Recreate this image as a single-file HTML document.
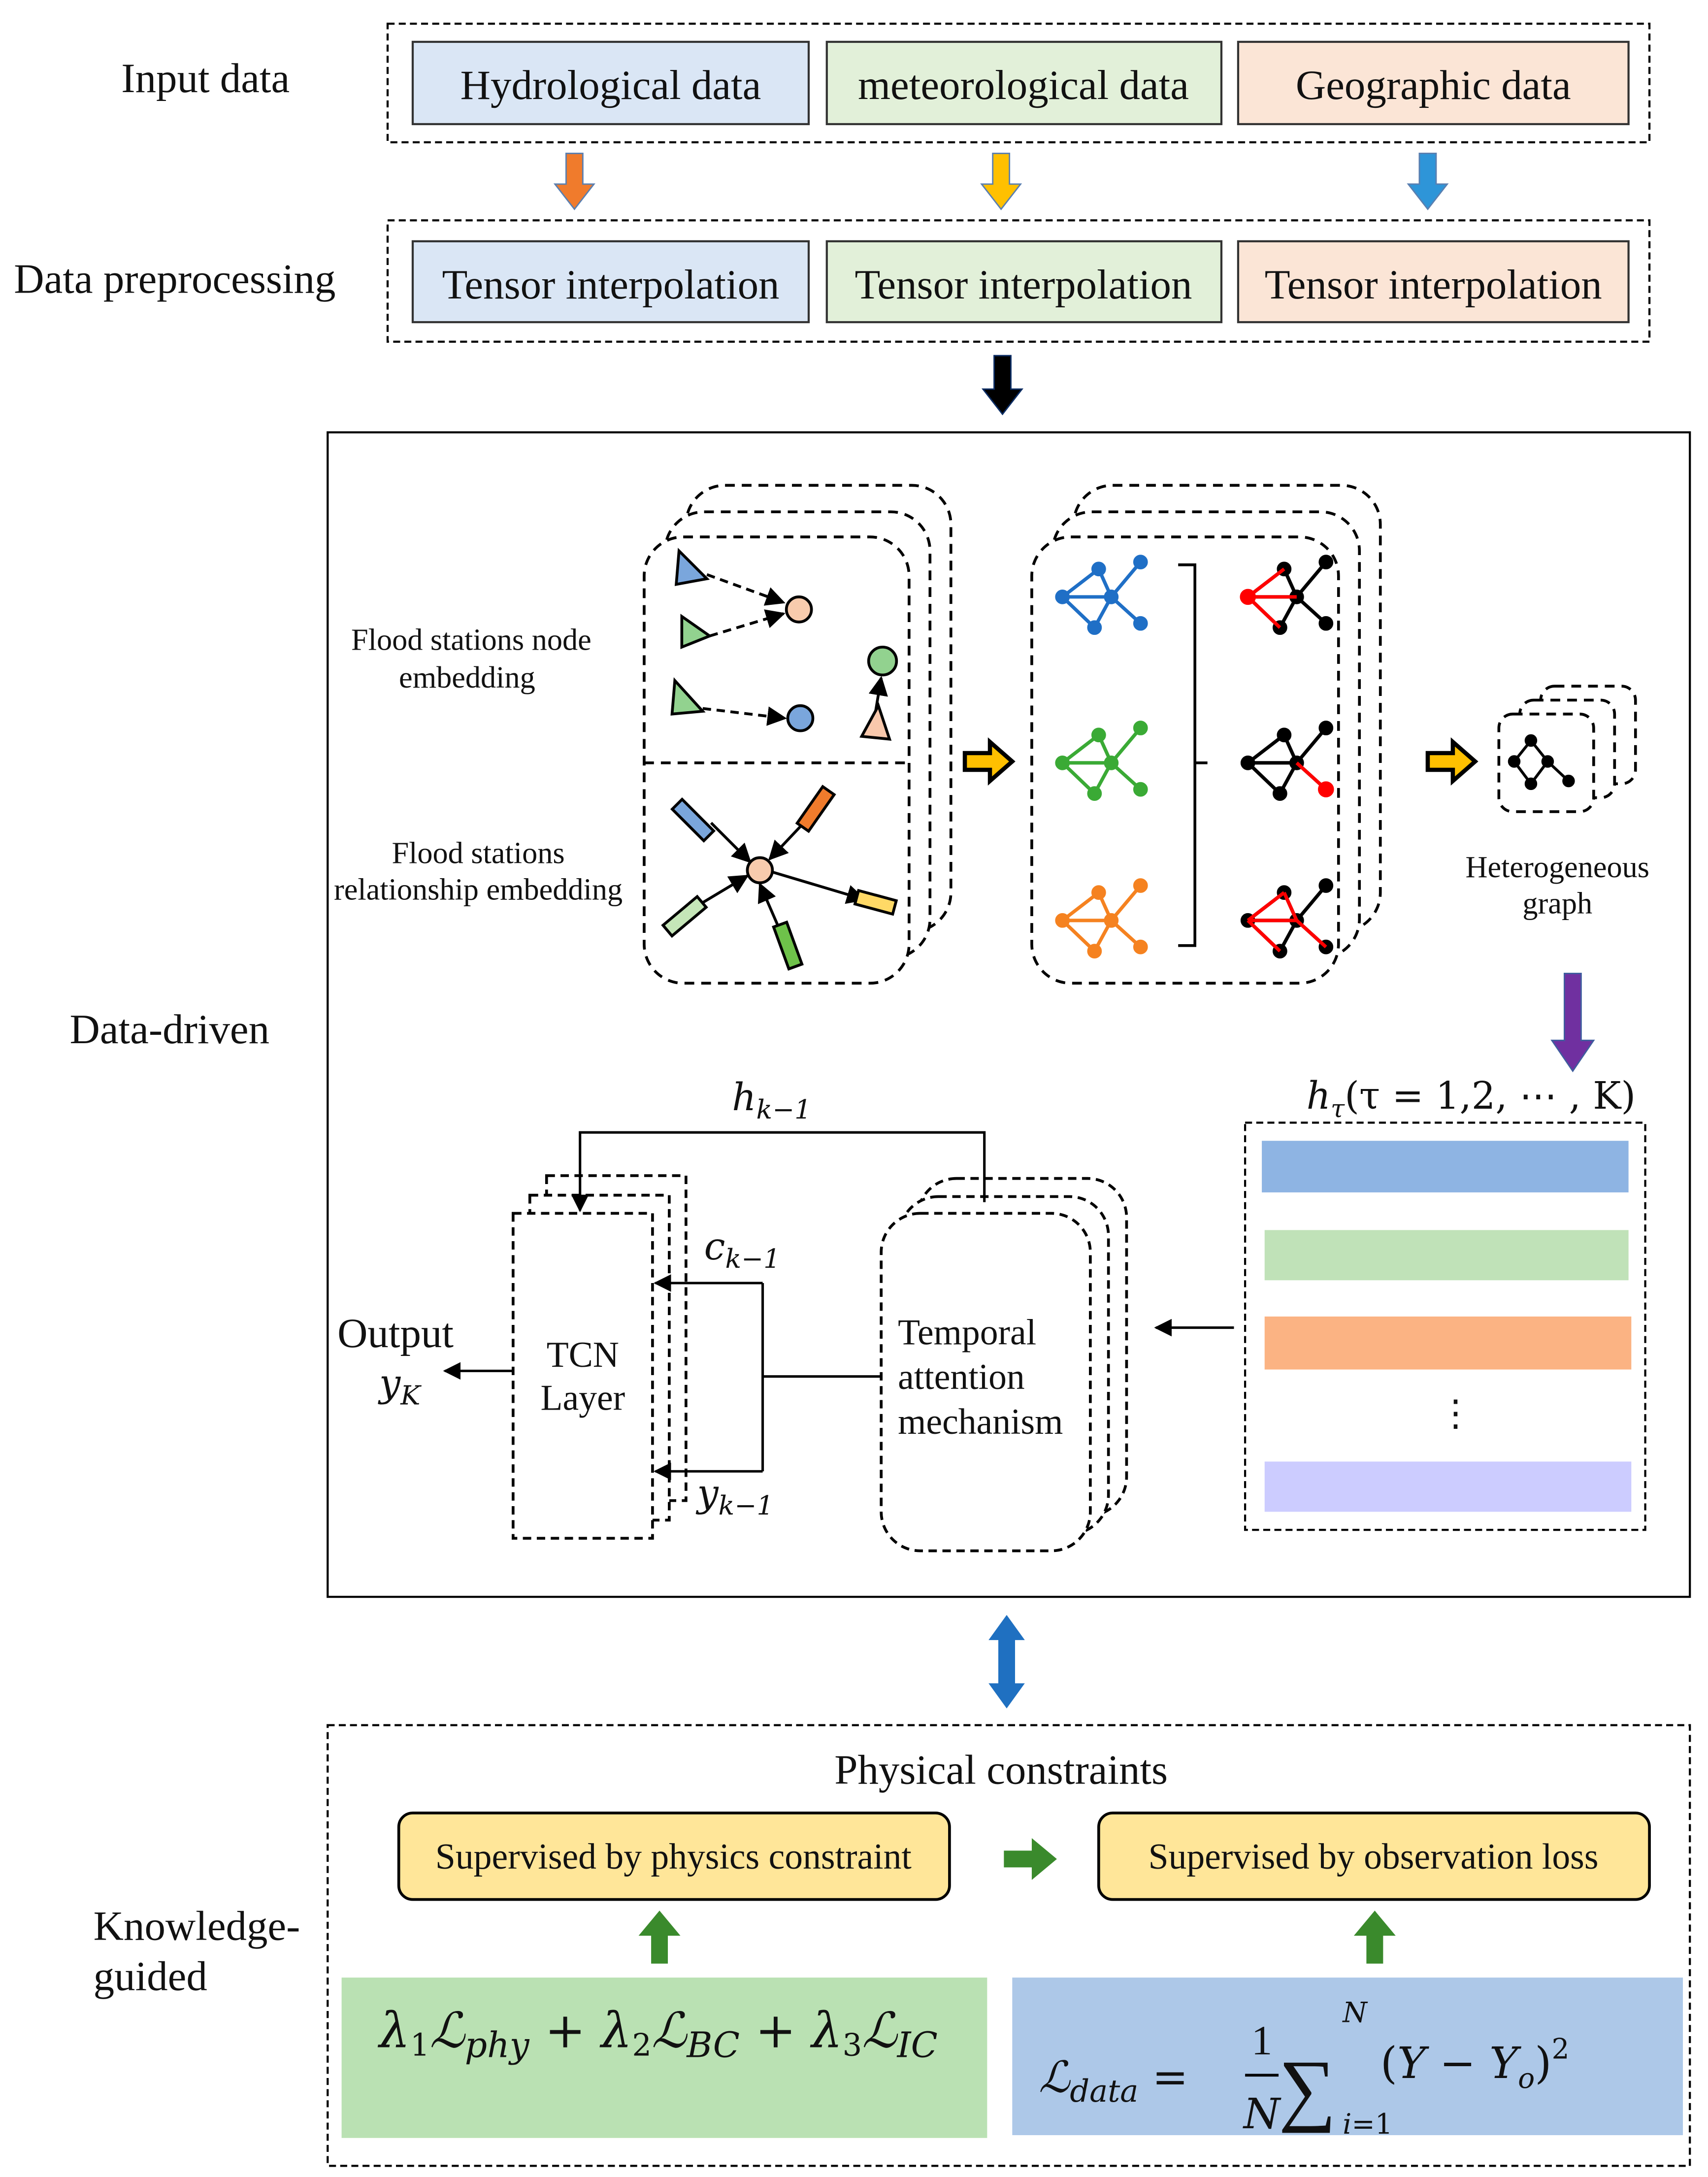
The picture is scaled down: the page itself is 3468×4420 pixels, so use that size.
<!DOCTYPE html>
<html><head><meta charset="utf-8"><style>
html,body{margin:0;padding:0;background:#fff;}
svg{display:block;}
text{font-family:"Liberation Serif",serif;fill:#111;}
.m{font-style:italic;font-family:"DejaVu Serif","Liberation Serif",serif;}
</style></head><body>
<svg width="3468" height="4420" viewBox="0 0 1225 1561" preserveAspectRatio="none" xmlns="http://www.w3.org/2000/svg">
<defs>
<marker id="ah" viewBox="0 0 10 10" refX="9" refY="5" markerWidth="7" markerHeight="7" orient="auto-start-reverse"><path d="M0,0 L10,5 L0,10 z" fill="#000"/></marker>
<g id="gr">
<line x1="-35" y1="0" x2="-9" y2="-20"/><line x1="-35" y1="0" x2="-12" y2="22"/><line x1="-35" y1="0" x2="0" y2="0"/>
<line x1="-9" y1="-20" x2="0" y2="0"/><line x1="-12" y1="22" x2="0" y2="0"/><line x1="0" y1="0" x2="21" y2="-25"/><line x1="0" y1="0" x2="21" y2="19"/>
<circle cx="-35" cy="0" r="4"/><circle cx="-9" cy="-20" r="4"/><circle cx="-12" cy="22" r="4"/><circle cx="0" cy="0" r="4"/><circle cx="21" cy="-25" r="4"/><circle cx="21" cy="19" r="4"/>
</g>
</defs>
<rect width="1225" height="1561" fill="#fff"/>

<text x="87" y="66" font-size="30">Input data</text>
<rect x="278" y="17" width="905" height="85" fill="none" stroke="#000" stroke-width="1.5" stroke-dasharray="5,3"/>
<rect x="296" y="30" width="284" height="59" fill="#dae6f5" stroke="#333" stroke-width="1.5"/>
<rect x="593" y="30" width="283" height="59" fill="#e2f0d9" stroke="#333" stroke-width="1.5"/>
<rect x="888" y="30" width="280" height="59" fill="#fbe5d6" stroke="#333" stroke-width="1.5"/>
<text x="438" y="71" font-size="30" text-anchor="middle">Hydrological data</text>
<text x="734" y="71" font-size="30" text-anchor="middle">meteorological data</text>
<text x="1028" y="71" font-size="30" text-anchor="middle">Geographic data</text>

<path d="M406,110 h12 v22 h8 l-14,18 l-14,-18 h8 z" fill="#f07b2c" stroke="#5a7fb0" stroke-width="1"/>
<path d="M712,110 h12 v22 h8 l-14,18 l-14,-18 h8 z" fill="#ffc000" stroke="#5a7fb0" stroke-width="1"/>
<path d="M1018,110 h12 v22 h8 l-14,18 l-14,-18 h8 z" fill="#2e95d8" stroke="#5a7fb0" stroke-width="1"/>

<text x="10" y="210" font-size="30">Data preprocessing</text>
<rect x="278" y="158" width="905" height="87" fill="none" stroke="#000" stroke-width="1.5" stroke-dasharray="5,3"/>
<rect x="296" y="173" width="284" height="58" fill="#dae6f5" stroke="#333" stroke-width="1.5"/>
<rect x="593" y="173" width="283" height="58" fill="#e2f0d9" stroke="#333" stroke-width="1.5"/>
<rect x="888" y="173" width="280" height="58" fill="#fbe5d6" stroke="#333" stroke-width="1.5"/>
<text x="438" y="214" font-size="30" text-anchor="middle">Tensor interpolation</text>
<text x="734" y="214" font-size="30" text-anchor="middle">Tensor interpolation</text>
<text x="1028" y="214" font-size="30" text-anchor="middle">Tensor interpolation</text>
<path d="M713,255 h12 v24 h8 l-14,18 l-14,-18 h8 z" fill="#000" stroke="#0b2c63" stroke-width="1"/>

<rect x="235" y="310" width="977" height="835" fill="none" stroke="#000" stroke-width="1.5"/>
<text x="50" y="748" font-size="30">Data-driven</text>

<g fill="none" stroke="#000" stroke-width="2" stroke-dasharray="7,5">
<rect x="492" y="348" width="190" height="320" rx="28"/>
<rect x="477" y="367" width="190" height="320" rx="28" fill="#fff"/>
<rect x="462" y="385" width="190" height="320" rx="28" fill="#fff"/>
<line x1="462" y1="547" x2="652" y2="547"/>
<rect x="770" y="348" width="220" height="320" rx="28"/>
<rect x="755" y="367" width="220" height="320" rx="28" fill="#fff"/>
<rect x="740" y="385" width="220" height="320" rx="28" fill="#fff"/>
<rect x="1105" y="492" width="68" height="70" rx="10"/>
<rect x="1090" y="502" width="68" height="70" rx="10" fill="#fff"/>
<rect x="1075" y="512" width="68" height="70" rx="10" fill="#fff"/>
</g>
<text x="338" y="466" font-size="22" text-anchor="middle">Flood stations node</text>
<text x="335" y="493" font-size="22" text-anchor="middle">embedding</text>
<text x="343" y="619" font-size="22" text-anchor="middle">Flood stations</text>
<text x="343" y="645" font-size="22" text-anchor="middle">relationship embedding</text>

<g stroke="#000" stroke-width="2">
<path d="M487,395 l20,20 l-22,4 z" fill="#7aa6dc"/>
<path d="M489,442 l20,14 l-20,8 z" fill="#92d28f"/>
<path d="M484,488 l20,22 l-22,2 z" fill="#92d28f"/>
<path d="M630,506 l-12,22 l20,2 z" fill="#f8c8ac"/>
<circle cx="573" cy="437" r="9" fill="#f8cbad"/>
<circle cx="574" cy="515" r="9" fill="#7aa6dc"/>
<circle cx="633" cy="474" r="10" fill="#92d28f"/>
<line x1="507" y1="412" x2="562" y2="432" stroke-dasharray="6,4" marker-end="url(#ah)"/>
<line x1="509" y1="456" x2="562" y2="440" stroke-dasharray="6,4" marker-end="url(#ah)"/>
<line x1="504" y1="508" x2="563" y2="515" stroke-dasharray="6,4" marker-end="url(#ah)"/>
<line x1="628" y1="510" x2="632" y2="486" marker-end="url(#ah)"/>
</g>
<g stroke="#000" stroke-width="2">
<line x1="510" y1="590" x2="538" y2="618" marker-end="url(#ah)"/>
<line x1="586" y1="580" x2="552" y2="616" marker-end="url(#ah)"/>
<line x1="486" y1="658" x2="536" y2="628" marker-end="url(#ah)"/>
<line x1="565" y1="680" x2="545" y2="634" marker-end="url(#ah)"/>
<line x1="553" y1="625" x2="620" y2="645" marker-end="url(#ah)"/>
<rect x="-16" y="-5" width="32" height="10" transform="translate(497,588) rotate(45)" fill="#7aa6dc"/>
<rect x="-16" y="-5" width="32" height="10" transform="translate(585,580) rotate(-55)" fill="#f07b2c"/>
<rect x="-16" y="-5" width="32" height="10" transform="translate(491,657) rotate(-40)" fill="#c5e6b8"/>
<rect x="-16" y="-5" width="32" height="10" transform="translate(565,678) rotate(70)" fill="#6ec24a"/>
<rect x="-14" y="-5" width="28" height="10" transform="translate(628,647) rotate(15)" fill="#ffd966"/>
<circle cx="545" cy="624" r="9" fill="#f8cbad"/>
</g>

<path d="M692,540 h18 v-8 l16,14 l-16,14 v-8 h-18 z" fill="#ffc000" stroke="#000" stroke-width="3"/>
<path d="M1024,540 h18 v-8 l16,14 l-16,14 v-8 h-18 z" fill="#ffc000" stroke="#000" stroke-width="3"/>

<g stroke-width="2.5"><use href="#gr" x="797" y="428" stroke="#1f6fc6" fill="#1f6fc6"/>
<use href="#gr" x="797" y="547" stroke="#3aaa35" fill="#3aaa35"/>
<use href="#gr" x="797" y="660" stroke="#f58220" fill="#f58220"/>
<use href="#gr" x="930" y="428" stroke="#000" fill="#000"/>
<use href="#gr" x="930" y="547" stroke="#000" fill="#000"/>
<use href="#gr" x="930" y="660" stroke="#000" fill="#000"/>
</g>
<g stroke="#f00" fill="#f00" stroke-width="2.5">
<line x1="895" y1="428" x2="921" y2="408"/><line x1="895" y1="428" x2="918" y2="450"/><line x1="895" y1="428" x2="930" y2="428"/><circle cx="895" cy="428" r="4.5"/>
<line x1="930" y1="547" x2="951" y2="566"/><circle cx="951" cy="566" r="4.5"/>
<line x1="895" y1="660" x2="921" y2="640"/><line x1="895" y1="660" x2="918" y2="682"/><line x1="895" y1="660" x2="930" y2="660"/><line x1="930" y1="660" x2="951" y2="679"/><line x1="921" y1="640" x2="930" y2="660"/>
</g>
<path d="M845,405 h12 v273 h-12 M857,547 h9" fill="none" stroke="#000" stroke-width="2"/>
<g stroke="#000" fill="#000" stroke-width="2">
<path d="M1086,546 L1098,531 L1110,546 L1098,562 z M1110,546 L1125,560" fill="none"/>
<circle cx="1086" cy="546" r="3.5"/><circle cx="1098" cy="531" r="3.5"/><circle cx="1110" cy="546" r="3.5"/><circle cx="1098" cy="562" r="3.5"/><circle cx="1125" cy="560" r="3.5"/>
</g>
<text x="1117" y="629" font-size="22" text-anchor="middle">Heterogeneous</text>
<text x="1117" y="655" font-size="22" text-anchor="middle">graph</text>
<path d="M1122,698 h12 v48 h9 l-15,22 l-15,-22 h9 z" fill="#7030a0" stroke="#3f5d9e" stroke-width="1"/>

<text x="937" y="795" font-size="27" class="m">h<tspan font-size="18" dy="6">τ</tspan><tspan dy="-6" font-style="normal">(τ = 1,2, ⋯ , K)</tspan></text>
<rect x="893" y="805" width="287" height="292" fill="none" stroke="#000" stroke-width="1.5" stroke-dasharray="5,3"/>
<rect x="905" y="818" width="263" height="37" fill="#8eb4e3"/>
<rect x="907" y="882" width="261" height="36" fill="#c0e2b8"/>
<rect x="907" y="944" width="263" height="38" fill="#fbb383"/>
<text x="1044" y="1022" font-size="26" text-anchor="middle">⋮</text>
<rect x="907" y="1048" width="263" height="36" fill="#ccccff"/>
<line x1="885" y1="952" x2="829" y2="952" stroke="#000" stroke-width="1.8" marker-end="url(#ah)"/>

<g fill="#fff" stroke="#000" stroke-width="2" stroke-dasharray="6,4">
<rect x="658" y="845" width="150" height="242" rx="28"/>
<rect x="645" y="858" width="150" height="242" rx="28"/>
<rect x="632" y="870" width="150" height="242" rx="28"/>
<rect x="392" y="843" width="100" height="233"/>
<rect x="380" y="857" width="100" height="233"/>
<rect x="368" y="870" width="100" height="233"/>
</g>
<text x="644" y="964" font-size="26">Temporal</text>
<text x="644" y="996" font-size="26">attention</text>
<text x="644" y="1028" font-size="26">mechanism</text>
<text x="418" y="980" font-size="26" text-anchor="middle">TCN</text>
<text x="418" y="1011" font-size="26" text-anchor="middle">Layer</text>
<g fill="none" stroke="#000" stroke-width="1.8">
<path d="M706,862 V812 H416 V868" marker-end="url(#ah)"/>
<line x1="632" y1="987" x2="547" y2="987"/>
<path d="M547,920 V1055"/>
<line x1="547" y1="920" x2="470" y2="920" marker-end="url(#ah)"/>
<line x1="547" y1="1055" x2="470" y2="1055" marker-end="url(#ah)"/>
<line x1="368" y1="983" x2="319" y2="983" marker-end="url(#ah)"/>
</g>
<text x="525" y="796" font-size="27" class="m">h<tspan font-size="19" dy="6">k−1</tspan></text>
<text x="505" y="903" font-size="27" class="m">c<tspan font-size="19" dy="6">k−1</tspan></text>
<text x="500" y="1080" font-size="27" class="m">y<tspan font-size="19" dy="6">k−1</tspan></text>
<text x="242" y="966" font-size="30">Output</text>
<text x="272" y="1001" font-size="27" class="m">y<tspan font-size="19" dy="6">K</tspan></text>

<path d="M722,1158 l13,18 h-7 v31 h7 l-13,18 l-13,-18 h7 v-31 h-7 z" fill="#1f70c1"/>

<rect x="235" y="1237" width="977" height="316" fill="none" stroke="#000" stroke-width="1.5" stroke-dasharray="5,3"/>
<text x="67" y="1391" font-size="30">Knowledge-</text>
<text x="67" y="1427" font-size="30">guided</text>
<text x="718" y="1279" font-size="30" text-anchor="middle">Physical constraints</text>
<rect x="286" y="1300" width="395" height="62" rx="10" fill="#ffe699" stroke="#000" stroke-width="2"/>
<rect x="788" y="1300" width="395" height="62" rx="10" fill="#ffe699" stroke="#000" stroke-width="2"/>
<text x="483" y="1340" font-size="26" text-anchor="middle">Supervised by physics constraint</text>
<text x="985" y="1340" font-size="26" text-anchor="middle">Supervised by observation loss</text>
<path d="M720,1327 h20 v-9 l18,15 l-18,15 v-9 h-20 z" fill="#3a8a2c"/>
<path d="M467,1408 v-20 h-9 l15,-18 l15,18 h-9 v20 z" fill="#3a8a2c"/>
<path d="M980,1408 v-20 h-9 l15,-18 l15,18 h-9 v20 z" fill="#3a8a2c"/>
<rect x="245" y="1418" width="463" height="115" fill="#bae1b3"/>
<rect x="726" y="1418" width="481" height="113" fill="#adc8e8"/>
<text x="272" y="1468" font-size="35" class="m">λ<tspan font-size="22" dy="6" font-style="normal">1</tspan><tspan dy="-6">ℒ</tspan><tspan font-size="25" dy="7">phy</tspan><tspan dy="-7" font-style="normal"> + </tspan>λ<tspan font-size="22" dy="6" font-style="normal">2</tspan><tspan dy="-6">ℒ</tspan><tspan font-size="25" dy="7">BC</tspan><tspan dy="-7" font-style="normal"> + </tspan>λ<tspan font-size="22" dy="6" font-style="normal">3</tspan><tspan dy="-6">ℒ</tspan><tspan font-size="25" dy="7">IC</tspan></text>
<text x="745" y="1500" font-size="31" class="m">ℒ<tspan font-size="22" dy="7">data</tspan><tspan dy="-7" font-style="normal"> = </tspan></text>
<text x="905" y="1473" font-size="30" text-anchor="middle" font-style="normal">1</text>
<line x1="893" y1="1488" x2="917" y2="1488" stroke="#000" stroke-width="2"/>
<text x="905" y="1526" font-size="30" text-anchor="middle" class="m">N</text>
<text x="917" y="1517" font-size="58" font-style="normal">∑</text>
<text x="963" y="1450" font-size="20" class="m">N</text>
<text x="963" y="1530" font-size="20" class="m">i<tspan font-style="normal">=1</tspan></text>
<text x="990" y="1490" font-size="31" class="m"><tspan font-style="normal">(</tspan>Y <tspan font-style="normal">− </tspan>Y<tspan font-size="20" dy="7">o</tspan><tspan dy="-7" font-style="normal">)</tspan><tspan font-size="20" dy="-14" font-style="normal">2</tspan></text>
</svg>
</body></html>
